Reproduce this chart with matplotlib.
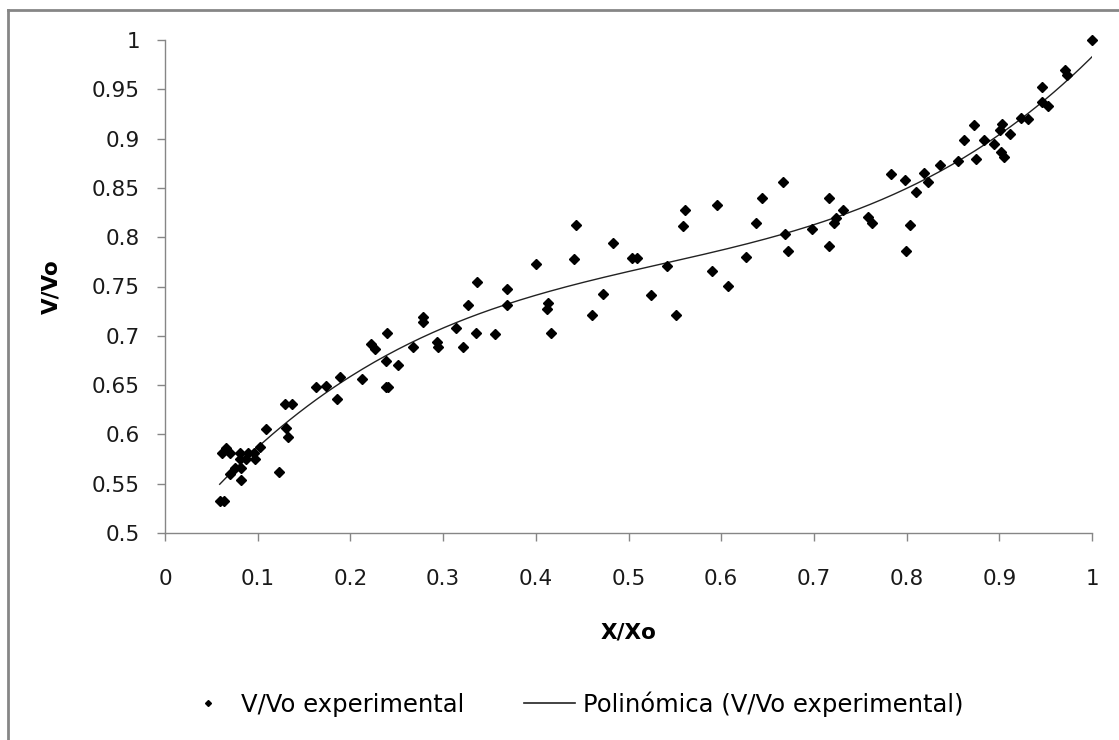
import numpy as np
import matplotlib.pyplot as plt
from matplotlib.lines import Line2D

# Datos experimentales: X/Xo y V/Vo
x_exp = [0.059, 0.064, 0.0615, 0.066, 0.070, 0.070, 0.075, 0.081, 0.081, 0.082,
         0.082, 0.087, 0.090, 0.096, 0.0975, 0.1025, 0.109, 0.123, 0.129, 0.137,
         0.130, 0.133, 0.163, 0.174, 0.186, 0.189, 0.212, 0.2226, 0.226, 0.2395,
         0.238, 0.238, 0.241, 0.251, 0.268, 0.278, 0.278, 0.293, 0.2945, 0.3136,
         0.322, 0.327, 0.335, 0.3366, 0.3556, 0.369, 0.369, 0.4006, 0.4136, 0.4117,
         0.416, 0.441, 0.4437, 0.461, 0.472, 0.4833, 0.504, 0.509, 0.524, 0.541,
         0.551, 0.5585, 0.561, 0.5897, 0.5955, 0.6077, 0.627, 0.6375, 0.644, 0.6667,
         0.669, 0.6725, 0.698, 0.716, 0.716, 0.7217, 0.724, 0.731, 0.758, 0.7627,
         0.783, 0.798, 0.8037, 0.7997, 0.8105, 0.8188, 0.8227, 0.8364, 0.8558, 0.862,
         0.873, 0.8745, 0.883, 0.894, 0.9008, 0.9032, 0.9018, 0.9048, 0.9115, 0.9238,
         0.931, 0.9464, 0.946, 0.953, 0.9705, 0.9733, 1.0]
v_exp = [0.532, 0.532, 0.5815, 0.586, 0.581, 0.560, 0.566, 0.581, 0.575, 0.566,
         0.554, 0.575, 0.581, 0.581, 0.575, 0.587, 0.605, 0.562, 0.631, 0.631,
         0.6065, 0.597, 0.648, 0.649, 0.636, 0.658, 0.656, 0.692, 0.687, 0.703,
         0.674, 0.648, 0.648, 0.670, 0.689, 0.719, 0.714, 0.694, 0.689, 0.708,
         0.689, 0.7316, 0.703, 0.755, 0.7015, 0.747, 0.731, 0.773, 0.733, 0.7275,
         0.703, 0.778, 0.812, 0.721, 0.742, 0.794, 0.7786, 0.7786, 0.741, 0.771,
         0.721, 0.811, 0.828, 0.7654, 0.833, 0.751, 0.780, 0.8147, 0.8394, 0.856,
         0.803, 0.786, 0.8083, 0.8394, 0.7914, 0.8147, 0.8198, 0.8276, 0.820, 0.8147,
         0.864, 0.8577, 0.812, 0.786, 0.8458, 0.8654, 0.856, 0.873, 0.877, 0.899,
         0.9135, 0.8796, 0.899, 0.895, 0.9084, 0.9145, 0.886, 0.881, 0.9044, 0.921,
         0.920, 0.9527, 0.937, 0.933, 0.9696, 0.964, 1.0]

x_ticks = [0, 0.1, 0.2, 0.3, 0.4, 0.5, 0.6, 0.7, 0.8, 0.9, 1]
y_ticks = [0.5, 0.55, 0.6, 0.65, 0.7, 0.75, 0.8, 0.85, 0.9, 0.95, 1]

# Línea de tendencia polinómica (orden 3)
coef = np.polyfit(x_exp, v_exp, 3)
x_fit = np.linspace(min(x_exp), max(x_exp), 300)
v_fit = np.polyval(coef, x_fit)

plt.rcParams['font.family'] = ['DejaVu Sans']
gray = '#868686'
fs = 15.5

fig = plt.figure(figsize=(11.19, 7.40), dpi=100)
ax = fig.add_axes([165 / 1119, 1 - 533 / 740, (1092 - 165) / 1119, (533 - 40) / 740])

ax.plot(x_exp, v_exp, linestyle='none', marker='D', markersize=5,
        color='black', label='V/Vo experimental', clip_on=False, zorder=3)
ax.plot(x_fit, v_fit, color='#222222', linewidth=1.0,
        label='Polinómica (V/Vo experimental)')

ax.set_xlim(0, 1)
ax.set_ylim(0.5, 1)
ax.set_xticks(x_ticks)
ax.set_xticklabels([f'{t:g}' for t in x_ticks])
ax.set_yticks(y_ticks)
ax.set_yticklabels([f'{t:g}' for t in y_ticks])

for side in ['top', 'right']:
    ax.spines[side].set_visible(False)
for side in ['left', 'bottom']:
    ax.spines[side].set_color(gray)
    ax.spines[side].set_linewidth(1.0)
ax.tick_params(axis='both', colors=gray, labelcolor='#1a1a1a', length=6,
               width=1.0, labelsize=fs)
ax.tick_params(axis='x', pad=20)
ax.tick_params(axis='y', pad=12)

ax.set_xlabel('X/Xo', fontsize=fs, fontweight='bold', labelpad=24)
ax.set_ylabel('V/Vo', fontsize=fs, fontweight='bold', labelpad=22)

handles = [Line2D([], [], linestyle='none', marker='D', markersize=3, color='black'),
           Line2D([], [], color='#222222', linewidth=1.2)]
fig.legend(handles, ['V/Vo experimental', 'Polinómica (V/Vo experimental)'],
           loc='center', bbox_to_anchor=(0.512, 1 - 704 / 740), ncol=2,
           frameon=False, fontsize=17.5, columnspacing=2.45, handlelength=2.1,
           handletextpad=0.33)

# Marco del gráfico (solo se ven los bordes izquierdo y superior)
fig.add_artist(Line2D([8 / 1119, 8 / 1119], [0, 1 - 10 / 740],
                      transform=fig.transFigure, color=gray, linewidth=2))
fig.add_artist(Line2D([8 / 1119, 1], [1 - 10 / 740, 1 - 10 / 740],
                      transform=fig.transFigure, color=gray, linewidth=2))

fig.savefig('out.png', dpi=100)
